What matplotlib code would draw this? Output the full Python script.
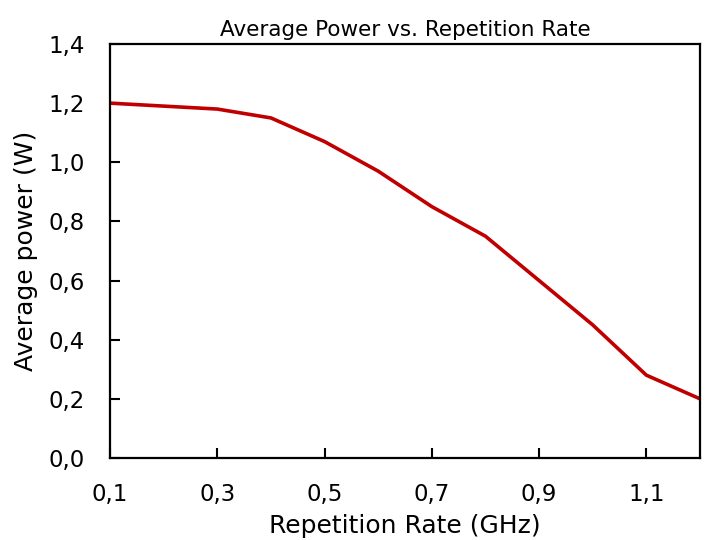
import matplotlib
matplotlib.use("Agg")
import matplotlib.pyplot as plt
from matplotlib.ticker import FuncFormatter

# data
rep_rate = [0.1, 0.3, 0.4, 0.5, 0.6, 0.7, 0.8, 0.9, 1.0, 1.1, 1.2]
avg_power = [1.20, 1.18, 1.15, 1.07, 0.97, 0.85, 0.75, 0.60, 0.45, 0.28, 0.20]
x_ticks = [0.1, 0.3, 0.5, 0.7, 0.9, 1.1]
y_ticks = [0.0, 0.2, 0.4, 0.6, 0.8, 1.0, 1.2, 1.4]

plt.rcParams['font.family'] = ['DejaVu Sans']

fig = plt.figure(figsize=(7.08, 5.40), dpi=100)
ax = fig.add_axes([0.1554, 0.1519, 0.8333, 0.7666])

ax.plot(rep_rate, avg_power, color='#C00000', linewidth=2.6)

ax.set_xlim(0.1, 1.2)
ax.set_ylim(0, 1.4)
ax.set_xticks(x_ticks)
ax.set_yticks(y_ticks)

# comma as decimal separator
fmt = FuncFormatter(lambda v, p: f"{v:.1f}".replace('.', ','))
ax.xaxis.set_major_formatter(fmt)
ax.yaxis.set_major_formatter(fmt)

ax.tick_params(direction='in', length=7, width=1.5, labelsize=16.5)
ax.tick_params(axis='x', pad=18)
ax.tick_params(axis='y', pad=18)
for s in ax.spines.values():
    s.set_linewidth(1.6)

ax.set_title('Average Power vs. Repetition Rate', fontsize=15.5, pad=6)
ax.set_xlabel('Repetition Rate (GHz)', fontsize=18, labelpad=6)
ax.set_ylabel('Average power (W)', fontsize=18, labelpad=8)

fig.savefig('out.png', dpi=100)
